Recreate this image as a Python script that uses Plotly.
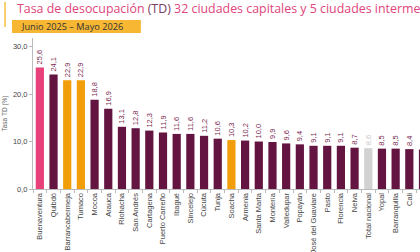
import plotly.graph_objects as go

ciudades = ["Buenaventura", "Quibdó", "Barrancabermeja", "Tumaco", "Mocoa", "Arauca",
            "Riohacha", "San Andrés", "Cartagena", "Puerto Carreño", "Ibagué", "Sincelejo",
            "Cúcuta", "Tunja", "Soacha", "Armenia", "Santa Marta", "Montería", "Valledupar",
            "Popayán", "San José del Guaviare", "Pasto", "Florencia", "Neiva", "Total nacional",
            "Yopal", "Barranquilla", "Cali", "…"]
td = [25.6, 24.1, 22.9, 22.9, 18.8, 16.9, 13.1, 12.8, 12.3, 11.9, 11.6, 11.6, 11.2, 10.6,
      10.3, 10.2, 10.0, 9.9, 9.6, 9.4, 9.1, 9.1, 9.1, 8.7, 8.6, 8.5, 8.5, 8.4, 8.3]
grupo = ["pico", "cap", "int", "int", "cap", "cap", "cap", "cap", "cap", "cap", "cap", "cap",
         "cap", "cap", "int", "cap", "cap", "cap", "cap", "cap", "cap", "cap", "cap", "cap",
         "nac", "cap", "cap", "cap", "cap"]
y_ticks = [0, 10, 20, 30]

bar_col = {"pico": "#e8407a", "cap": "#641440", "int": "#f29d0a", "nac": "#d2d2d2"}
txt_col = {"pico": "#7a1f4f", "cap": "#7a1f4f", "int": "#7a1f4f", "nac": "#c8c8c8"}

n_slots = 38
step = 13.7
L, R, T, B = 33, 10, 38, 63
pw = n_slots * step
W = int(L + pw + R)
H = 252

def px(x):
    return (x - L) / pw

def py(y):
    return 1 - (y - T) / (H - T - B)

fig = go.Figure(go.Bar(
    x=ciudades, y=td,
    marker=dict(color=[bar_col[g] for g in grupo], line=dict(width=0)),
    texttemplate="%{y:.1f}", textposition="outside", textangle=-90,
    textfont=dict(size=7.5, color=[txt_col[g] for g in grupo], family="Liberation Sans"),
    constraintext="none", cliponaxis=False, width=0.6,
))

fig.update_layout(
    width=W, height=H, margin=dict(l=L, r=R, t=T, b=B, autoexpand=False),
    paper_bgcolor="white", plot_bgcolor="white", separators=",.",
    showlegend=False,
    xaxis=dict(type="category", range=[-0.5, n_slots - 0.5], tickangle=-90, automargin=False,
               tickfont=dict(size=7.5, color="#444", family="Liberation Sans"),
               showline=True, linecolor="#bbb", linewidth=1, ticks="outside",
               tickson="boundaries", ticklen=3, tickcolor="#bbb", showgrid=False),
    yaxis=dict(range=[0, 31.8], tickvals=y_ticks, tickformat=".1f", automargin=False,
               tickfont=dict(size=7.5, color="#444", family="Liberation Sans"),
               showline=True, linecolor="#bbb", linewidth=1, ticks="outside",
               ticklen=3, tickcolor="#bbb", showgrid=False, zeroline=False,
               title=dict(text="Tasa TD (%)", font=dict(size=6.5, color="#666",
                          family="Liberation Sans"), standoff=4)),
    font=dict(family="Open Sans"),
)

# yellow accent line left of title
fig.add_shape(type="line", xref="paper", yref="paper", x0=px(5), x1=px(5), y0=py(2), y1=py(27),
              line=dict(color="#f5c040", width=1.5))
# subtitle box
fig.add_shape(type="rect", xref="paper", yref="paper", x0=px(12), x1=px(141), y0=py(20), y1=py(33),
              fillcolor="#f7b733", line=dict(width=0), layer="above")

fig.add_annotation(xref="paper", yref="paper", x=px(15), y=py(9), xanchor="left", yanchor="middle",
                   showarrow=False,
                   text="Tasa de desocupación <span style='color:#7a3a60'>(TD)</span> 32 ciudades capitales y 5 ciudades intermedias",
                   font=dict(size=12.4, color="#e0457b", family="Open Sans"))
fig.add_annotation(xref="paper", yref="paper", x=px(19), y=py(26.5), xanchor="left", yanchor="middle",
                   showarrow=False, text="Junio 2025 – Mayo 2026",
                   font=dict(size=9.2, color="#333", family="Open Sans"))

fig.write_html("out.html")
